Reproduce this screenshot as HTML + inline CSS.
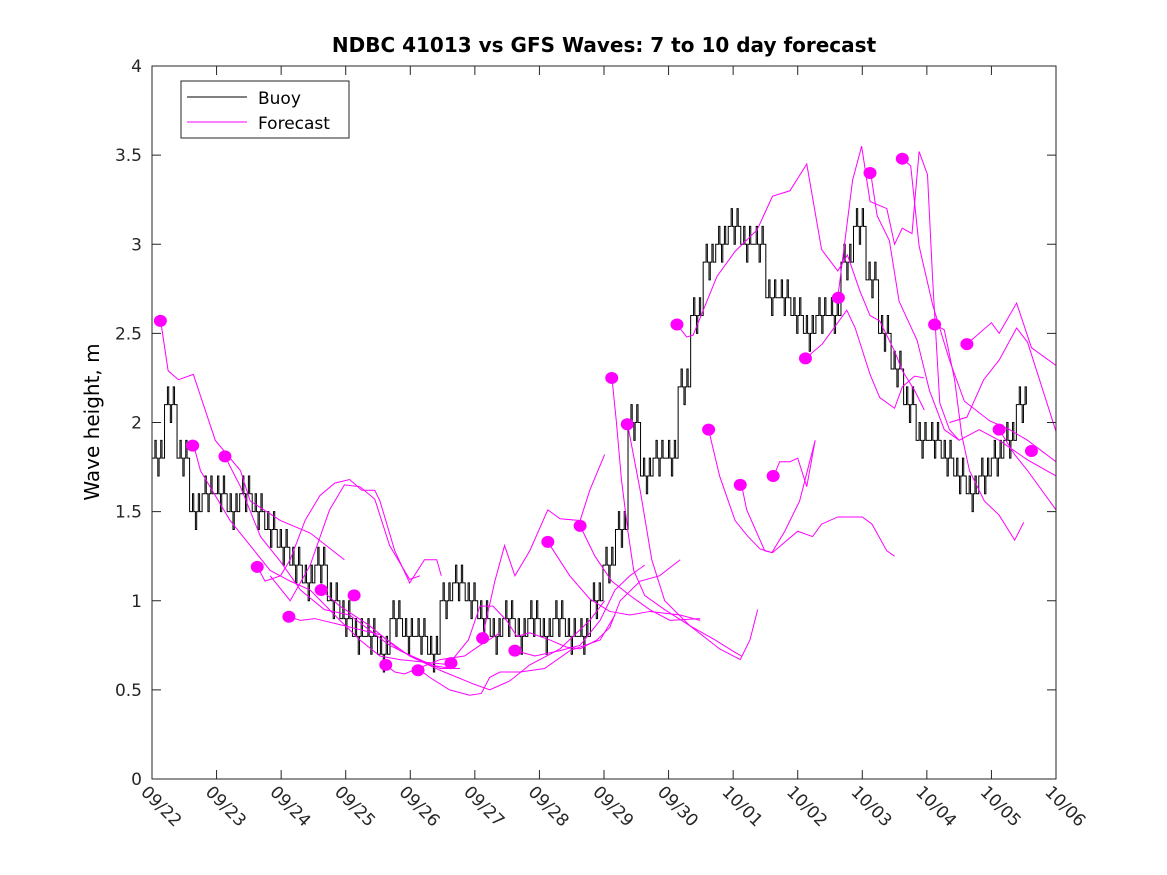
<!DOCTYPE html>
<html><head><meta charset="utf-8"><style>
body{margin:0;background:#fff;}
svg{display:block;font-family:"DejaVu Sans","Liberation Sans",sans-serif;}
</style></head><body>
<svg id="chart" width="1167" height="875" viewBox="0 0 1167 875">
<rect x="0" y="0" width="1167" height="875" fill="#fff"/>
<text x="604" y="52" text-anchor="middle" font-size="20" font-weight="bold">NDBC 41013 vs GFS Waves: 7 to 10 day forecast</text>
<text transform="translate(99,422) rotate(-90)" text-anchor="middle" font-size="20">Wave height, m</text>
<g id="plot"></g>
<rect x="152" y="66" width="904" height="713" fill="none" stroke="#262626" stroke-width="1"/>
<g id="axes"></g>
<g>
<rect x="181" y="81" width="168" height="57" fill="#fff" stroke="#262626" stroke-width="1"/>
<line x1="187" y1="97" x2="247" y2="97" stroke="#000" stroke-width="1"/>
<text x="258" y="104" font-size="17">Buoy</text>
<line x1="187" y1="122" x2="247" y2="122" stroke="#f0f" stroke-width="1"/>
<text x="258" y="129" font-size="17">Forecast</text>
</g>
</svg>
<script>
const xTickLabels=["09/22","09/23","09/24","09/25","09/26","09/27","09/28","09/29","09/30","10/01","10/02","10/03","10/04","10/05","10/06"];
const yTicks=[0,0.5,1,1.5,2,2.5,3,3.5,4];
const yTickLabels=["0","0.5","1","1.5","2","2.5","3","3.5","4"];
const buoyValues=[1.8,2.1,1.8,1.5,1.6,1.6,1.5,1.6,1.5,1.4,1.3,1.2,1.1,1.2,1.0,0.9,0.8,0.8,0.7,0.9,0.8,0.8,0.7,1.0,1.1,1.0,0.9,0.8,0.9,0.8,0.9,0.8,0.9,0.8,0.8,1.0,1.2,1.4,2.0,1.7,1.8,1.8,2.2,2.6,2.9,3.0,3.1,3.0,3.0,2.7,2.7,2.6,2.5,2.6,2.6,2.9,3.1,2.8,2.5,2.3,2.1,1.9,1.9,1.8,1.7,1.6,1.7,1.8,1.9,2.1];
const buoyStep=0.194;
const dotDays=[0.13,0.63,1.13,1.63,2.12,2.62,3.13,3.62,4.12,4.63,5.12,5.62,6.13,6.63,7.12,7.36,8.13,8.62,9.11,9.62,10.12,10.63,11.12,11.62,12.12,12.62,13.12,13.62];
const dotValues=[2.57,1.87,1.81,1.19,0.91,1.06,1.03,0.64,0.61,0.65,0.79,0.72,1.33,1.42,2.25,1.99,2.55,1.96,1.65,1.70,2.36,2.70,3.40,3.48,2.55,2.44,1.96,1.84];
const fDays=[
[.13,.25,.41,.64,.75,.98,1.37,1.52,1.99,2.45,2.98],
[.64,.75,1.21,1.52,1.83,2.14,2.45,2.91,3.22,3.53,3.84,4.63],
[1.13,1.37,1.68,1.99,2.30,2.67,3.06,3.68,4.30,4.63],
[1.63,1.75,1.99,2.14,2.37,2.60,2.83,3.06,3.25,3.45,3.53,3.76,3.99,4.22,4.41,4.48],
[1.83,2.14,2.45,2.75,2.98,3.22,3.45,3.68,3.99,4.15],
[2.12,2.30,2.52,2.98,3.53,3.99,4.46,5.0,5.23,5.54,5.85,6.32,6.78,7.01],
[2.62,2.91,3.37,3.84,4.46,4.77],
[3.62,3.76,3.91,4.12,4.30,4.61,4.92,5.10,5.23,5.39,5.70,6.08,6.47,6.94,7.17],
[4.12,4.46,4.84,5.08,5.39],
[4.63,4.90,5.08,5.28,5.49,5.65,5.85,6.16,6.42,6.63,6.89,7.09,7.25,7.56,7.86,8.18],
[5.12,5.31,5.46,5.62,5.85,6.13,6.32,6.63,6.78,7.01],
[5.62,5.93,6.32,6.63,6.94,7.17,7.40,7.63],
[6.13,6.47,6.78,7.09,7.40,7.71,8.18,8.49],
[6.63,6.86,7.12,7.40,7.71,8.02,8.49],
[7.12,7.19,7.27,7.37,7.46,7.63,7.94,8.33,8.72,9.03,9.13],
[7.36,7.56,7.74,7.94,8.33,8.79,9.11,9.26,9.38],
[8.13,8.28,8.38,8.75,9.03,9.37,9.61,9.88,10.14,10.37,10.62,10.77,10.96,11.12,11.27,11.50,11.62,11.81,11.96],
[8.62,8.79,9.03,9.23,9.42,9.60,9.80,10.03,10.27],
[9.13,9.21,9.49,9.61,10.0,10.23,10.37,10.62,11.0,11.15,11.38,11.50],
[9.63,9.72,9.88,10.0,10.14,10.27],
[10.12,10.38,10.76,10.89,11.12,11.27,11.50,11.62,11.81,11.96],
[10.62,10.85,10.99,11.12,11.38,11.50,11.62,11.77,11.88,12.01,12.09,12.20,12.35,12.50],
[11.13,11.23,11.42,11.57,11.85,12.04,12.27,12.50,12.81,13.12,13.56,14.0],
[11.62,11.75,11.88,12.09,12.35,12.58,12.97,13.28,13.56,14.0],
[12.12,12.27,12.43,12.54,12.66,12.89,13.12,13.36,13.50],
[12.62,13.0,13.12,13.39,13.62,14.0],
[13.12,13.36,13.56,14.0],
[12.35,12.62,12.88,13.12,13.39,13.56,14.0]
];
const fValues=[
[2.58,2.29,2.24,2.27,2.15,1.90,1.73,1.56,1.45,1.38,1.23],
[1.88,1.73,1.45,1.31,1.17,1.11,1.06,.89,.78,.69,.67,.64],
[1.81,1.64,1.36,1.22,1.06,.95,.92,.75,.64,.62],
[1.19,1.11,1.14,1.23,1.45,1.59,1.66,1.68,1.62,1.62,1.56,1.28,1.10,1.23,1.23,1.14],
[1.14,1.0,1.2,1.51,1.65,1.64,1.57,1.31,1.12,1.14],
[.91,.89,.90,.86,.81,.69,.61,.53,.5,.55,.64,.73,.89,1.0],
[1.06,.97,.86,.72,.62,.62],
[.64,.6,.59,.62,.57,.5,.47,.48,.57,.6,.6,.62,.72,.78,.92],
[.62,.67,.69,.75,.82],
[.66,.78,.97,.97,.89,.8,.82,.78,.74,.73,.78,.85,1.0,1.11,1.14,1.23],
[.8,1.11,1.31,1.14,1.28,1.51,1.46,1.45,1.62,1.82],
[.72,.69,.72,.75,.89,1.06,1.14,1.2],
[1.33,1.14,1.01,.94,.92,.94,.92,.89],
[1.42,1.25,1.11,1.03,.95,.89,.9],
[2.26,2.01,1.68,1.39,1.17,1.03,.95,.86,.78,.71,.69],
[2.0,1.62,1.23,1.0,.86,.73,.67,.78,.95],
[2.55,2.48,2.49,2.82,2.96,3.08,3.27,3.30,3.45,2.97,2.85,2.94,2.74,2.6,2.57,2.4,2.29,2.18,2.07],
[1.96,1.70,1.45,1.36,1.29,1.27,1.39,1.56,1.9],
[1.65,1.51,1.28,1.27,1.39,1.36,1.43,1.47,1.47,1.43,1.28,1.25],
[1.7,1.78,1.78,1.8,1.64,1.9],
[2.36,2.44,2.63,2.53,2.27,2.14,2.08,2.2,2.26,2.25],
[2.70,3.36,3.55,3.24,3.2,3.0,3.09,3.06,3.52,3.39,2.8,2.11,1.96,1.9],
[3.4,3.16,3.02,2.68,2.46,2.18,1.96,1.9,1.96,1.9,1.79,1.70],
[3.48,3.44,2.99,2.66,2.35,2.12,2.01,1.96,1.9,1.78],
[2.55,2.52,2.24,1.93,1.73,1.56,1.48,1.34,1.44],
[2.44,2.56,2.5,2.67,2.42,2.32],
[1.96,1.82,1.73,1.51],
[2.0,2.03,2.24,2.35,2.53,2.45,1.95]
];
const NS="http://www.w3.org/2000/svg";
const X0=152,X1=1056,Y0=779,Y1=66;
function xs(d){return X0+(d/14)*(X1-X0);}
function ys(v){return Y0-(v/4)*(Y0-Y1);}
const plot=document.getElementById('plot');
const axes=document.getElementById('axes');
const defs=document.createElementNS(NS,'defs');
defs.innerHTML='<clipPath id="clip"><rect x="152" y="66" width="904" height="713"/></clipPath>';
document.getElementById('chart').insertBefore(defs,plot);
plot.setAttribute('clip-path','url(#clip)');
let bp='';
buoyValues.forEach((v,i)=>{const x=xs(i*buoyStep),y=ys(v);
 if(i===0){bp+=`M${x},${y}`;}else{bp+=`H${x}V${y}`;}
 const up=ys(v+0.1),dn=ys(v-0.1);
 for(let k=1;k<4;k++){
  const xa=xs(i*buoyStep+k*0.045),xb=xs(i*buoyStep+k*0.045+0.02);
  bp+=`H${xa}V${k%2?up:dn}H${xb}V${y}`;
 }
});
const buoy=document.createElementNS(NS,'path');
buoy.setAttribute('d',bp);buoy.setAttribute('fill','none');buoy.setAttribute('stroke','#000');buoy.setAttribute('stroke-width','1');


plot.appendChild(buoy);
fDays.forEach((ds,k)=>{
 const vs=fValues[k];
 const pl=document.createElementNS(NS,'polyline');
 pl.setAttribute('points',ds.map((d,i)=>xs(d)+','+ys(vs[i])).join(' '));
 pl.setAttribute('fill','none');pl.setAttribute('stroke','#f0f');pl.setAttribute('stroke-width','1');
 
 
 plot.appendChild(pl);
});
dotDays.forEach((d,i)=>{
 const c=document.createElementNS(NS,'ellipse');
 c.setAttribute('cx',xs(d));c.setAttribute('cy',ys(dotValues[i]));c.setAttribute('rx',6.5);c.setAttribute('ry',6);c.setAttribute('fill','#f0f');
 
 
 plot.appendChild(c);
});
yTicks.forEach((t,i)=>{
 const y=ys(t);
 const l=document.createElementNS(NS,'path');
 l.setAttribute('d',`M${X0},${y}h9M${X1},${y}h-9`);l.setAttribute('stroke','#262626');
 
 
 axes.appendChild(l);
 const tx=document.createElementNS(NS,'text');
 tx.setAttribute('x',X0-10);tx.setAttribute('y',y+6);tx.setAttribute('text-anchor','end');tx.setAttribute('font-size','17');tx.setAttribute('fill','#262626');
 tx.textContent=yTickLabels[i];
 
 
 axes.appendChild(tx);
});
xTickLabels.forEach((lab,i)=>{
 const x=xs(i);
 const l=document.createElementNS(NS,'path');
 l.setAttribute('d',`M${x},${Y0}v-9M${x},${Y1}v9`);l.setAttribute('stroke','#262626');
 
 
 axes.appendChild(l);
 const tx=document.createElementNS(NS,'text');
 tx.setAttribute('transform',`translate(${x-12},${Y0+14}) rotate(45)`);tx.setAttribute('font-size','17');tx.setAttribute('fill','#262626');
 tx.textContent=lab;
 
 
 axes.appendChild(tx);
});
</script>
</body></html>
